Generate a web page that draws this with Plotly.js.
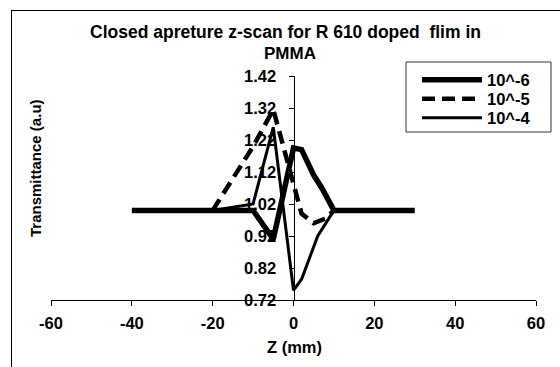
<!DOCTYPE html>
<html>
<head>
<meta charset="utf-8">
<script src="https://cdn.plot.ly/plotly-3.0.1.min.js"></script>
<style>
  html, body { margin: 0; padding: 0; background: #fff; }
  #chart { position: absolute; left: 0; top: 0; width: 560px; height: 367px; }
  #frame { position: absolute; left: 11px; top: 10px; width: 600px; height: 400px;
           border-left: 1px solid #000; border-top: 1px solid #000; pointer-events: none; }
</style>
</head>
<body>
<div id="chart"></div>
<div id="frame"></div>
<script>
// Data
const seriesNames = ["10^-6", "10^-5", "10^-4"];

const zA = [-40, -30, -20, -10, -5, 0, 2, 5, 7, 10, 20, 30];
const tA = [1.0, 1.0, 1.0, 1.0, 0.91, 1.195, 1.19, 1.11, 1.07, 1.0, 1.0, 1.0];

const zB = [-20, -15, -10, -5, 2, 5, 8, 10];
const tB = [1.0, 1.1, 1.2, 1.315, 0.99, 0.96, 0.975, 1.0];

const zC = [-20, -10, -5, 0, 2, 5, 6, 10];
const tC = [1.0, 1.02, 1.26, 0.75, 0.785, 0.89, 0.92, 1.0];

const xTicks = [-60, -40, -20, 0, 20, 40, 60];
const yTicks = [0.72, 0.82, 0.92, 1.02, 1.12, 1.22, 1.32, 1.42];

const FONT = "Liberation Sans, Arial, sans-serif";

const traces = [
  { x: zA, y: tA, name: seriesNames[0], mode: "lines", legend: "legend",
    line: { color: "#000", width: 5.5 } },
  { x: zB, y: tB, name: seriesNames[1], mode: "lines", legend: "legend2",
    line: { color: "#000", width: 4.5, dash: "13px,7px" } },
  { x: zC, y: tC, name: seriesNames[2], mode: "lines", legend: "legend3",
    line: { color: "#000", width: 3 } }
];

// pixel -> paper helpers for the plot area (l=51, r=536, t=76, b=300)
const px = v => (v - 51) / 485;
const py = v => (300 - v) / 224;

const legendFont = { family: FONT, size: 16.5, color: "#000", weight: "bold" };
const mkLegend = rowY => ({
  x: px(417), y: py(rowY), xanchor: "left", yanchor: "middle",
  bgcolor: "rgba(0,0,0,0)", borderwidth: 0, font: legendFont, itemwidth: 60
});

const layout = {
  width: 560, height: 367,
  margin: { l: 51, r: 24, t: 76, b: 67 },
  paper_bgcolor: "#fff", plot_bgcolor: "#fff",
  font: { family: FONT, color: "#000", size: 16 },
  showlegend: true,
  title: {
    text: "<b>Closed apreture z-scan for R 610 doped  flim in</b>",
    font: { family: FONT, size: 17.5, color: "#000" },
    x: 285.5 / 560, xanchor: "center", xref: "container",
    y: 1 - 32 / 367, yanchor: "middle", yref: "container"
  },
  xaxis: {
    range: [-60, 60], tickvals: xTicks, ticktext: xTicks.map(String),
    showgrid: false, zeroline: false,
    showline: true, linecolor: "#000", linewidth: 1,
    ticks: "outside", ticklen: 5, tickcolor: "#000", tickwidth: 1,
    ticklabelstandoff: 3,
    tickfont: { family: FONT, size: 16.5, color: "#000", weight: "bold" },
    anchor: "y"
  },
  yaxis: {
    range: [0.72, 1.42], tickvals: yTicks, ticktext: yTicks.map(v => v.toFixed(2)),
    showgrid: false, zeroline: false,
    showline: true, linecolor: "#000", linewidth: 1,
    ticks: "outside", ticklen: 5, tickcolor: "#000", tickwidth: 1,
    ticklabelstandoff: 9,
    tickfont: { family: FONT, size: 16.5, color: "#000", weight: "bold" },
    anchor: "free", position: 0.5, side: "left"
  },
  legend: mkLegend(80),
  legend2: mkLegend(99),
  legend3: mkLegend(118),
  shapes: [
    { type: "rect", xref: "paper", yref: "paper", layer: "above",
      x0: px(406), x1: px(551), y0: py(62), y1: py(132),
      fillcolor: "#fff", line: { color: "#333", width: 1 } }
  ],
  annotations: [
    { text: "<b>PMMA</b>", showarrow: false,
      xref: "paper", yref: "paper", x: px(290), y: py(53), xanchor: "center", yanchor: "middle",
      font: { family: FONT, size: 17, color: "#000" } },
    { text: "<b>Transmittance (a.u)</b>", textangle: -90, showarrow: false,
      xref: "paper", yref: "paper", x: px(35), y: py(168), xanchor: "center", yanchor: "middle",
      font: { family: FONT, size: 15, color: "#000" } },
    { text: "<b>Z (mm)</b>", showarrow: false,
      xref: "paper", yref: "paper", x: px(294), y: py(347), xanchor: "center", yanchor: "middle",
      font: { family: FONT, size: 16.5, color: "#000" } }
  ]
};

Plotly.newPlot("chart", traces, layout, { displayModeBar: false, staticPlot: true });
</script>
</body>
</html>
